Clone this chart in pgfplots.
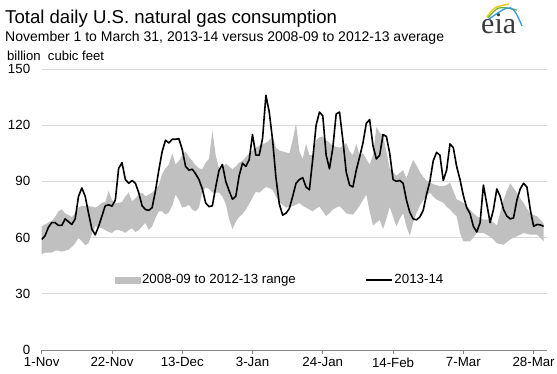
\documentclass[border=0pt]{standalone}
\usepackage{fontspec}
\setmainfont{Liberation Sans}
\newfontfamily\logofont{Liberation Serif}
\usepackage{pgfplots}
\pgfplotsset{compat=1.18}
\usepackage{pgfplotstable}
\usepgfplotslibrary{fillbetween}
\definecolor{bandgray}{HTML}{C0C0C0}
\definecolor{gridgray}{HTML}{D9D9D9}
\definecolor{axisgray}{HTML}{868686}
\definecolor{logogray}{HTML}{3A3A3A}
\definecolor{logoyellow}{HTML}{F2C500}
\definecolor{logogreen}{HTML}{6DB33F}
\definecolor{logoblue}{HTML}{2E9BD6}

\pgfplotstableread{
d low high y
0 51 66 59
1 52 67 61
2 52 68 65.5
3 52 69 68
4 53 71 68
5 53 74 66.5
6 52.5 75 66.5
7 53 73 70
8 53.5 72 68.5
9 55 71 67
10 57 73 70
11 59.8 76 82
12 58 77 86.5
13 56 77 82
14 57 77 73
15 62 76.5 64.5
16 66 76 61.5
17 65.5 77 66
18 65 78.6 71.5
19 64 79 77
20 63 85 77.5
21 62.5 80 76.8
22 64 78.6 80
23 64 78.6 97
24 63.5 79 100
25 62.5 82 91
26 64 84 89
27 65 79.4 90.5
28 63 81 89
29 64 83 84
30 66 84 77
31 67.8 82 75
32 64 83 74.5
33 66 84 76
34 70.5 86 85
35 74 88 96
36 74 94 106
37 72.3 97 112
38 73.5 99 110.5
39 77 105 112.5
40 83 99 112.5
41 80 101 112.8
42 76 104 107
43 76.5 106 98
44 77.5 103 96
45 75 101 96.5
46 74 98.5 94
47 76 97 91
48 84.5 96.5 86
49 86.8 100 78.5
50 86 102 76.5
51 84 117 77
52 84 104 87
53 84 97 96
54 82 97 99
55 78 99.5 90
56 70 98 85
57 64.5 96.5 80.5
58 68.5 98 82
59 71 100 93
60 72.5 101 99.7
61 75 103 98
62 78 105 101.5
63 81.5 106.5 115
64 84.5 108 104
65 84 109 104
66 85.5 110 113
67 87 110.5 136
68 86.5 112 127
69 85.5 114 112
70 82 108 92
71 79 106.5 78
72 77.5 106 72
73 76 105.5 73
74 76.3 105 75.5
75 76.8 112 82
76 77.5 121 89
77 78.5 106 91
78 77 102 92
79 76 110 87
80 75 104 85.5
81 74 104 102
82 75.5 112 120
83 76.5 113.5 127
84 74 114 125
85 71.5 112 104
86 73 110.7 96.7
87 75 109 108
88 76 108.5 126
89 76.8 108 127
90 75 109 112
91 73 110.5 95
92 72.5 106 88
93 72.3 104 87
94 74.5 110 96
95 77 104 103
96 80 105 110.5
97 83 102 121
98 74 99 123
99 66.5 104 109
100 68 119 102
101 69.5 116 104
102 64.5 114.5 115
103 70 106 114
104 76.5 97 105
105 71 95 91
106 66 93 90
107 70 94.5 90.5
108 73 96 89
109 66 91.5 80
110 61 97 73.5
111 68 101.5 70
112 73 98.5 69.5
113 77 95 71
114 80 92.5 74.5
115 82 90.5 83
116 84 89.5 90
117 82 88.5 101
118 80.3 88 105.5
119 79.5 87.5 104
120 78.6 87.5 90.5
121 76.5 88 96
122 75 89.3 110
123 73 85 108
124 71.4 80.5 98
125 62.5 79.5 91
126 58 78.6 82.5
127 58 77 76
128 58 75 72.8
129 60 73 66
130 62.5 71.4 63
131 62.5 70.5 68
132 62.5 69.6 88
133 61.5 69.6 78
134 60.5 69.6 68
135 59 68 75
136 57 66.5 86
137 56.5 73 82
138 56.2 80 75
139 57.5 85 71.5
140 59 89 70
141 60 86.5 70.5
142 60.7 84 80
143 61.5 81 86
144 62.5 78.5 89
145 62 75.5 87
146 61.6 73 75
147 61.6 72 66
148 61.6 71.4 67
149 60 69.5 66.8
150 58 67.5 66
}\gasdata

\begin{document}
\begin{tikzpicture}
\node[anchor=base west, inner sep=0pt, font=\fontsize{18.6bp}{22bp}\selectfont] at (5bp,350bp) {Total daily U.S. natural gas consumption};
\node[anchor=base west, inner sep=0pt, font=\fontsize{14bp}{17bp}\selectfont] at (5bp,332bp) {November 1 to March 31, 2013-14 versus 2008-09 to 2012-13 average};
\node[anchor=base west, inner sep=0pt, font=\fontsize{13.1bp}{16bp}\selectfont] at (7bp,313.5bp) {billion\ \ cubic feet};
% logo
\node[anchor=base west, inner sep=0pt, text=logogray, font=\logofont\fontsize{30bp}{30bp}\selectfont] at (481bp,340bp) {eia};
\draw[logoyellow, line width=1.3bp] (487bp,357bp) .. controls (494bp,367bp) .. (509bp,370bp);
\draw[logogreen, line width=1.3bp] (488bp,356bp) .. controls (498bp,368bp) .. (517bp,364bp);
\draw[logoblue, line width=1.3bp] (489bp,355bp) .. controls (512bp,371bp) .. (522bp,348bp);
\begin{axis}[
  at={(41.7bp,24bp)}, anchor=south west, scale only axis,
  width=505.3bp, height=281bp,
  xmin=0, xmax=151, ymin=0, ymax=150,
  xtick={0,21,42,63,84,105,126,147},
  xticklabels={1-Nov,22-Nov,13-Dec,3-Jan,24-Jan,14-Feb,7-Mar,28-Mar},
  ytick={0,30,60,90,120,150},
  axis x line*=bottom, axis y line*=left,
  y axis line style={draw=none},
  x axis line style={draw=axisgray, line width=0.9bp},
  ymajorgrids, major grid style={draw=gridgray, line width=0.9bp},
  tick align=outside,
  xtick style={draw=axisgray, line width=0.9bp}, major tick length=4bp,
  ytick style={draw=none},
  ticklabel style={font=\fontsize{13.3bp}{16bp}\selectfont, text=black},
  /pgf/number format/assume math mode=true,
  yticklabel style={xshift=-4bp},
  legend style={draw=none, fill=none, at={(0.4716,0.25)}, anchor=center,
    font=\fontsize{13.3bp}{16bp}\selectfont,
    /tikz/every even column/.append style={column sep=67bp}},
  legend columns=2,
  legend cell align=left,
]
\addplot[name path=hi, draw=none, forget plot] table[x=d,y=high]{\gasdata};
\addplot[name path=lo, draw=none, forget plot] table[x=d,y=low]{\gasdata};
\addplot[fill=bandgray, draw=none, forget plot] fill between[of=hi and lo];
\addlegendimage{legend image code/.code={\fill[bandgray] (0bp,-3bp) rectangle (25bp,3bp);}}
\addlegendentry{2008-09 to 2012-13 range}
\addplot[black, line width=1.6bp, line join=round, mark=none,
  legend image code/.code={\draw[black, line width=1.6bp] (0bp,0bp) -- (26bp,0bp);}]
  table[x=d,y=y]{\gasdata};
\addlegendentry{2013-14}
\end{axis}
\pgfresetboundingbox
\useasboundingbox (0bp,0bp) rectangle (557bp,374bp);
\end{tikzpicture}
\end{document}
